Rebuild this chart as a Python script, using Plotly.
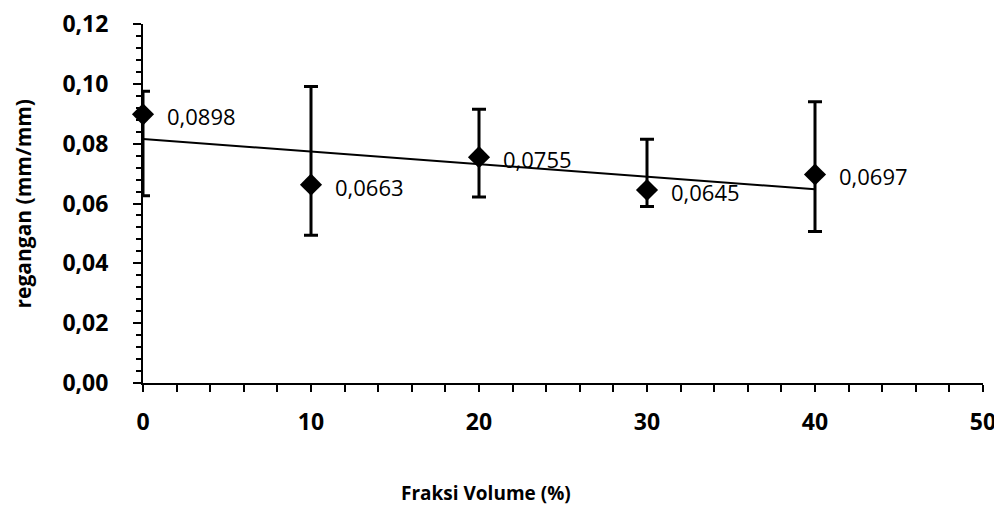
import numpy as np
import plotly.graph_objects as go

fraksi = [0, 10, 20, 30, 40]
regangan = [0.0898, 0.0663, 0.0755, 0.0645, 0.0697]
err_plus = [0.0077, 0.0328, 0.0160, 0.0170, 0.0243]
err_minus = [0.0272, 0.0169, 0.0133, 0.0055, 0.0191]
labels = ["0,0898", "0,0663", "0,0755", "0,0645", "0,0697"]

slope, intercept = np.polyfit(fraksi, regangan, 1)
trend_x = [min(fraksi), max(fraksi)]
trend_y = [intercept + slope * v for v in trend_x]

fig = go.Figure()
fig.add_trace(go.Scatter(x=trend_x, y=trend_y, mode="lines",
                         line=dict(color="black", width=2), hoverinfo="skip",
                         cliponaxis=False))
fig.add_trace(go.Scatter(
    x=fraksi, y=regangan, mode="markers",
    marker=dict(symbol="diamond", size=17, color="black"),
    error_y=dict(type="data", symmetric=False, array=err_plus, arrayminus=err_minus,
                 color="black", thickness=3, width=7),
    cliponaxis=False))

for xv, yv, t in zip(fraksi, regangan, labels):
    fig.add_annotation(x=xv, y=yv, text=t, showarrow=False, xanchor="left",
                       yanchor="middle", xshift=22, yshift=-2,
                       font=dict(family="Open Sans", size=22, color="black"))

fig.add_annotation(xref="paper", yref="paper", x=0, y=0.5, xshift=-121,
                   xanchor="center", yanchor="middle",
                   text="<b>regangan (mm/mm)</b>", textangle=-90, showarrow=False,
                   font=dict(family="Open Sans", size=21, color="black"))
fig.add_annotation(xref="paper", yref="paper", x=0.4086, y=0, yshift=-110,
                   xanchor="center", yanchor="middle",
                   text="<b>Fraksi Volume (%)</b>", showarrow=False,
                   font=dict(family="Open Sans", size=19, color="black"))

fig.update_layout(
    width=994, height=498, showlegend=False,
    paper_bgcolor="white", plot_bgcolor="white",
    margin=dict(l=135, r=19, t=16, b=123),
    separators=",.",
    font=dict(family="Open Sans", color="black"),
)
fig.update_xaxes(range=[0, 50], dtick=10, showgrid=False, zeroline=False,
                 showline=True, linecolor="black", linewidth=2, automargin=False,
                 ticks="outside", ticklen=7, tickwidth=2, tickcolor="black",
                 minor=dict(dtick=2, ticks="outside", ticklen=7, tickwidth=2, tickcolor="black"),
                 tickfont=dict(family="Open Sans", size=23, color="black", weight="bold"),
                 ticklabelstandoff=10, ticklabeloverflow="allow")
fig.update_yaxes(range=[0, 0.12], dtick=0.02, tickformat=".2f", showgrid=False,
                 zeroline=False, showline=True, linecolor="black", linewidth=2,
                 automargin=False,
                 ticks="outside", ticklen=8, tickwidth=2, tickcolor="black",
                 minor=dict(dtick=0.004, ticks="outside", ticklen=5, tickwidth=2, tickcolor="black"),
                 tickfont=dict(family="Open Sans", size=23, color="black", weight="bold"),
                 ticklabelstandoff=20, ticklabeloverflow="allow")

fig.write_html("out.html")
